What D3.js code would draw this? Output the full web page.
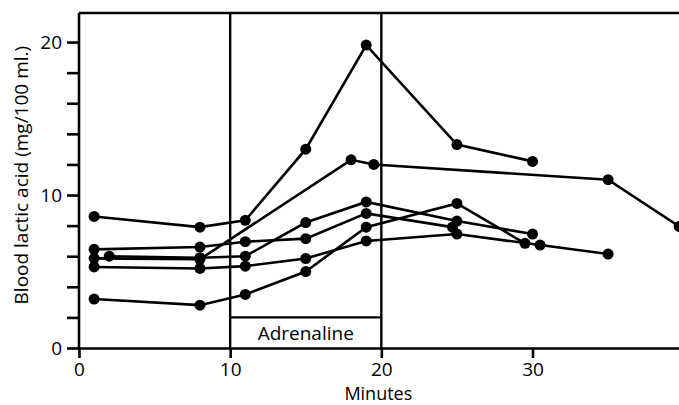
<!DOCTYPE html>
<html lang="en">
<head>
    <meta charset="UTF-8">
    <title>Blood lactic acid</title>
    <script src="https://cdn.jsdelivr.net/npm/d3@7"></script>
    <style>
        body { margin: 0; background: white; }
        svg { display: block; }
        text { font-family: "Open Sans", Lato, sans-serif; font-weight: 500; fill: black; }
    </style>
</head>
<body>
    <svg id="chart" width="679" height="405"></svg>
    <script>
        // minutes / blood lactic acid (mg/100 ml.)
        const seriesA = [[1, 8.6], [8, 7.9], [11, 8.35], [15, 13.0], [19, 19.8], [25, 13.3], [30, 12.2]]
        const seriesB = [[1, 5.86], [8, 5.8], [18, 12.3], [19.5, 12.0], [35, 11.0], [39.7, 7.95]]
        const seriesC = [[2, 6.0], [8, 5.9], [11, 6.0], [15, 8.2], [19, 9.55], [25, 8.3], [30, 7.45]]
        const seriesD = [[1, 6.45], [8, 6.6], [11, 6.95], [15, 7.15], [19, 8.8], [24.7, 7.9]]
        const seriesE = [[1, 5.3], [8, 5.2], [11, 5.35], [15, 5.85], [19, 7.0], [25, 7.45], [30.5, 6.73], [35, 6.14]]
        const seriesF = [[1, 3.2], [8, 2.8], [11, 3.5], [15, 5.0], [19, 7.9], [25, 9.45], [29.5, 6.84]]
        const allSeries = [seriesA, seriesB, seriesC, seriesD, seriesE, seriesF]

        const xTicks = [0, 10, 20, 30]
        const yTicks = [0, 2, 4, 6, 8, 10, 12, 14, 16, 18, 20]
        const yLabels = [0, 10, 20]
        const adrenaline = [10, 20]

        const svg = d3.select("#chart")
        const margin = {left: 79, top: 13, bottom: 57}
        const height = 405
        const fontSize = 19

        const x = d3.scaleLinear().domain([0, 40]).range([margin.left, margin.left + 40 * 15.117])
        const y = d3.scaleLinear().domain([0, 21.9]).range([height - margin.bottom, margin.top])

        // frame top
        svg.append("line")
            .attr("x1", x(0)).attr("x2", x(40))
            .attr("y1", y(21.9)).attr("y2", y(21.9))
            .attr("stroke", "black")
            .attr("stroke-width", 2.6)

        // axes
        const xAxis = d3.axisBottom(x)
            .tickValues(xTicks)
            .tickSize(10)
            .tickPadding(5)
            .tickSizeOuter(0)
        const gx = svg.append("g")
            .attr("transform", `translate(0,${y(0)})`)
            .call(xAxis)
        gx.select(".domain").attr("stroke-width", 2.6)
        gx.selectAll(".tick line").attr("stroke-width", 2.6)
        gx.selectAll(".tick text").attr("font-size", fontSize).attr("font-family", "Open Sans")

        const yAxis = d3.axisLeft(y)
            .tickValues(yTicks)
            .tickSize(12)
            .tickPadding(5)
            .tickSizeOuter(0)
            .tickFormat(d => yLabels.includes(d) ? d : "")
        const gy = svg.append("g")
            .attr("transform", `translate(${x(0)},0)`)
            .call(yAxis)
        gy.select(".domain").attr("stroke-width", 2.6)
            .attr("d", `M0,${y(21.9)}V${y(0)}`)
        gy.selectAll(".tick line").attr("stroke-width", 2.6)
        gy.selectAll(".tick text").attr("font-size", fontSize).attr("font-family", "Open Sans")

        // adrenaline period
        svg.selectAll(".period")
            .data(adrenaline)
            .enter()
            .append("line")
            .attr("x1", d => x(d)).attr("x2", d => x(d))
            .attr("y1", y(21.9)).attr("y2", y(0))
            .attr("stroke", "black")
            .attr("stroke-width", 2.4)
        svg.append("line")
            .attr("x1", x(adrenaline[0])).attr("x2", x(adrenaline[1]))
            .attr("y1", y(2.0)).attr("y2", y(2.0))
            .attr("stroke", "black")
            .attr("stroke-width", 2.2)
        svg.append("text")
            .attr("x", (x(adrenaline[0]) + x(adrenaline[1])) / 2)
            .attr("y", y(0) - 8)
            .attr("text-anchor", "middle")
            .attr("font-size", fontSize)
            .text("Adrenaline")

        // data lines and points
        const linegen = d3.line()
            .x(d => x(d[0]))
            .y(d => y(d[1]))
        const plot = svg.append("g")
        allSeries.forEach(s => {
            plot.append("path")
                .attr("d", linegen(s))
                .attr("fill", "none")
                .attr("stroke", "black")
                .attr("stroke-width", 2.6)
            plot.selectAll(null)
                .data(s)
                .enter()
                .append("circle")
                .attr("cx", d => x(d[0]))
                .attr("cy", d => y(d[1]))
                .attr("r", 5.5)
                .attr("fill", "black")
        })

        // titles
        svg.append("text")
            .attr("x", x(20) - 3)
            .attr("y", 400)
            .attr("text-anchor", "middle")
            .attr("font-size", 18)
            .text("Minutes")
        svg.append("text")
            .attr("transform", `translate(28,${y(11.3)}) rotate(-90)`)
            .attr("text-anchor", "middle")
            .attr("font-size", fontSize)
            .text("Blood lactic acid (mg/100 ml.)")
    </script>
</body>
</html>
